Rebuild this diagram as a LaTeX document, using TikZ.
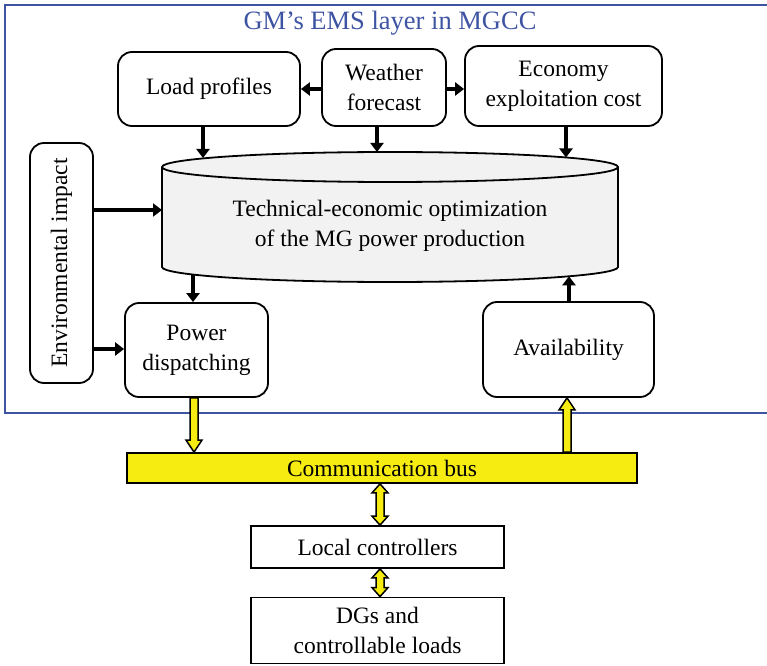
\documentclass[tikz,border=0pt]{standalone}
\usepackage{fontspec}
\setmainfont{Liberation Serif}
\usetikzlibrary{arrows.meta,calc}
\definecolor{frameblue}{RGB}{62,84,163}
\definecolor{busyellow}{RGB}{246,236,18}
\definecolor{cylgray}{RGB}{242,242,242}

\tikzset{
  txt/.style={font=\fontsize{23.5}{30}\selectfont},
  box/.style={draw, line width=1.8pt, rounded corners=14pt, align=center, inner sep=0pt, txt},
  plainbox/.style={draw, line width=1.8pt, align=center, inner sep=0pt, txt},
  flow/.style={line width=4.5pt, -{Triangle[width=13pt,length=9pt]}},
  yarrow/.style={draw, line width=1.5pt, fill=busyellow, line join=miter},
}

% yellow block arrow from #1 with its head at #2; #3 = signed head length
\newcommand\blockarrow[3]{%
  \draw[yarrow] let \p1=(#1), \p2=(#2) in
    ({\x1-4pt},\y1) -- ({\x1-4pt},{\y2+#3}) -- ({\x1-8pt},{\y2+#3}) -- (\x1,\y2)
    -- ({\x1+8pt},{\y2+#3}) -- ({\x1+4pt},{\y2+#3}) -- ({\x1+4pt},\y1) -- cycle;}

% yellow double-headed block arrow between #1 (top) and #2 (bottom)
\newcommand\dblarrow[2]{%
  \draw[yarrow] let \p1=(#1), \p2=(#2) in
    (\x1,\y1) -- ({\x1+8pt},{\y1-9pt}) -- ({\x1+4pt},{\y1-9pt}) -- ({\x1+4pt},{\y2+9pt})
    -- ({\x1+8pt},{\y2+9pt}) -- (\x1,\y2) -- ({\x1-8pt},{\y2+9pt}) -- ({\x1-4pt},{\y2+9pt})
    -- ({\x1-4pt},{\y1-9pt}) -- ({\x1-8pt},{\y1-9pt}) -- cycle;}

\begin{document}
\begin{tikzpicture}[x=1pt,y=1pt]
  \useasboundingbox (0,0) rectangle (767,665);

  % EMS layer frame and title
  \draw[frameblue, line width=2.5pt] (5,252) rectangle (790,660);
  \node[text=frameblue, font=\fontsize{26.5}{30}\selectfont] (title) at (390,642) {GM’s EMS layer in MGCC};

  % input boxes
  \node[box, minimum width=182, minimum height=74] (lp) at (209,576) {Load profiles};
  \node[box, minimum width=124, minimum height=77] (wf) at (384,577.5) {Weather\\forecast};
  \node[box, minimum width=197, minimum height=80] (ec) at (563.5,579) {Economy\\exploitation cost};

  \draw[flow] (wf.west |- lp.east) -- (lp.east);
  \draw[flow] (wf.east |- lp.east) -- (ec.west |- lp.east);

  % optimization cylinder
  \draw[line width=1.8pt, fill=cylgray]
    (162,498) -- (162,398) arc[start angle=180, end angle=360, x radius=228, y radius=15]
    -- (618,498) arc[start angle=0, end angle=180, x radius=228, y radius=15] -- cycle;
  \draw[line width=1.8pt] (162,498) arc[start angle=180, end angle=360, x radius=228, y radius=15];
  \node[txt, align=center] (opt) at (390,439.5) {Technical-economic optimization\\of the MG power production};

  % attachment points on the cylinder surface
  \coordinate (in-lp) at (203,507);
  \coordinate (in-wf) at (377,513);
  \coordinate (in-ec) at (566,507.5);
  \coordinate (in-env) at (162,455);
  \coordinate (out-pd) at (193,390.5);
  \coordinate (in-av) at (569,388.7);

  \draw[flow] (lp.south -| in-lp) -- (in-lp);
  \draw[flow] (wf.south -| in-wf) -- (in-wf);
  \draw[flow] (ec.south -| in-ec) -- (in-ec);

  % environmental impact
  \node[box, minimum width=63, minimum height=240] (env) at (61.5,402) {};
  \node[txt, rotate=90] (envtxt) at (env.center) {Environmental impact};

  % dispatching and availability
  \node[box, minimum width=143, minimum height=94] (pd) at (196.5,315) {Power\\dispatching};
  \node[box, minimum width=171, minimum height=95] (av) at (568.5,315.5) {Availability};

  \draw[flow] (env.east |- in-env) -- (in-env);
  \draw[flow] (env.east |- 0,316) -- (pd.west |- 0,316);
  \draw[flow] (out-pd) -- (pd.north -| out-pd);
  \draw[flow] (av.north -| in-av) -- (in-av);

  % communication bus and lower levels
  \node[plainbox, fill=busyellow, minimum width=510, minimum height=30] (bus) at (382,197) {Communication bus};
  \node[plainbox, minimum width=253, minimum height=42] (lc) at (377.5,118) {Local controllers};
  \node[plainbox, minimum width=253, minimum height=66] (dg) at (377.5,34.5) {DGs and\\controllable loads};

  \blockarrow{pd.south -| 194,0}{bus.north -| 194,0}{12pt}
  \blockarrow{bus.north -| 567,0}{av.south -| 567,0}{-12pt}
  \dblarrow{bus.south -| 380,0}{lc.north -| 380,0}
  \dblarrow{lc.south -| 380,0}{dg.north -| 380,0}
\end{tikzpicture}
\end{document}
